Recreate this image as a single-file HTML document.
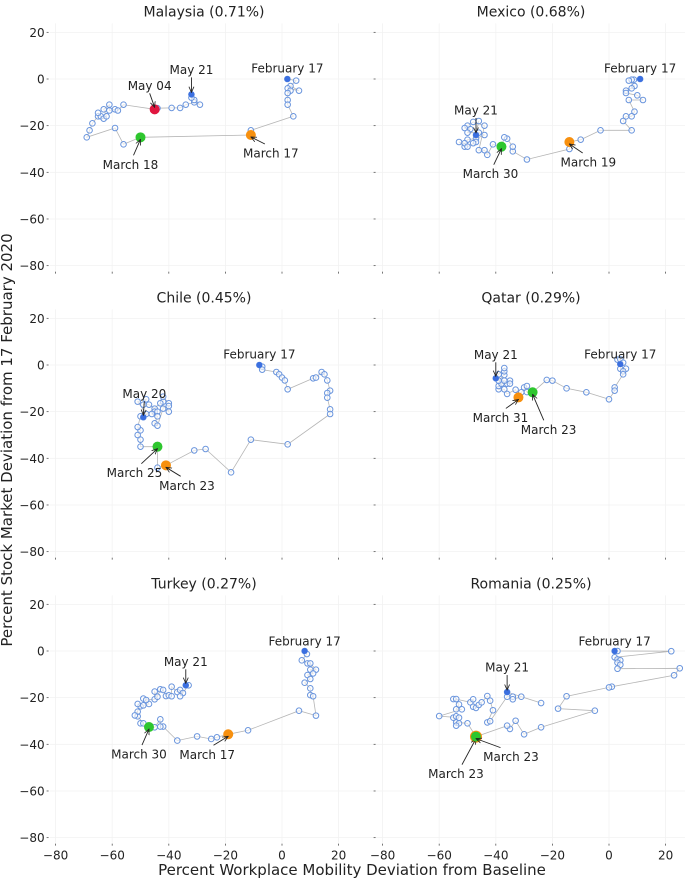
<!DOCTYPE html>
<html><head><meta charset="utf-8"><style>
html,body{margin:0;padding:0;background:#fff;}
svg{display:block;font-family:"DejaVu Sans","Liberation Sans",sans-serif;}
</style></head><body>
<svg id="chart" width="685" height="878" viewBox="0 0 685 878" xmlns="http://www.w3.org/2000/svg">
<text x="0" y="0" transform="translate(12,440) rotate(-90)" text-anchor="middle" font-size="15" fill="#222">Percent Stock Market Deviation from 17 February 2020</text>
<text x="352" y="875" text-anchor="middle" font-size="15" fill="#222">Percent Workplace Mobility Deviation from Baseline</text>
</svg>
<script>
const xTicks = [-80, -60, -40, -20, 0, 20];
const yTicks = [20, 0, -20, -40, -60, -80];
const titles = ["Malaysia (0.71%)", "Mexico (0.68%)", "Chile (0.45%)", "Qatar (0.29%)", "Turkey (0.27%)", "Romania (0.25%)"];

const malaysiaX = [1.9,5,3,6,2,3,2,2,2,4,-11,-11,-50,-56,-59,-69,-68,-67,-65,-64,-65,-63,-62,-63,-61,-61,-59,-58,-56,-45,-44,-39,-36,-34,-31,-29,-31,-32,-32];
const malaysiaY = [0,-0.7,-3,-5,-4,-5,-6,-9,-11,-16,-22,-24,-25,-28,-21,-25,-22,-19,-16,-16,-14.5,-17,-16,-13,-11,-13.5,-13,-13.5,-11,-13,-12.5,-12.4,-12.4,-11,-10,-11,-9,-8,-6.6];
const mexicoX = [11,8.8,8,7,9,8,6,6,10,12,7,9,8,6,5,8,-3,-10,-14,-14,-29,-34,-34,-36,-37,-38,-41,-43,-44,-46,-44,-48,-50,-51,-49,-50,-46,-44,-47,-50,-51,-53,-51,-50,-47,-48,-46,-47];
const mexicoY = [0,-0.3,-0.3,-0.7,-3,-4,-5,-6,-7,-9,-9,-14,-16,-16,-18,-22,-22,-26,-27,-30,-34.5,-31,-29,-25.6,-25,-29,-28,-32.5,-30.5,-30.5,-20,-18.4,-20,-21,-21.5,-23,-23,-24,-25.5,-26,-29,-27,-27.5,-29,-27,-27.5,-18,-24];
const chileX = [-8,-7,-7,-2,-1,0,1,2,11,12,14,15,16,17,16,16,17,17,2,-11,-18,-27,-31,-41,-44,-44,-50,-50,-51,-50,-51,-50,-48,-51,-48,-49,-47,-45,-45,-44,-46,-44,-45,-44,-42,-42,-42,-40,-40,-40,-43,-49];
const chileY = [0,-0.7,-2,-3,-4,-5.4,-6.6,-10.4,-5.7,-5.4,-3,-4,-6.6,-11,-12,-14,-19,-21,-34,-32,-46,-36,-36.6,-43,-44,-35,-35,-32,-30,-28,-26.6,-22,-21,-15.7,-14.7,-17,-17,-18.7,-20,-20,-21,-22,-25,-26,-18.7,-15.7,-13.6,-16.4,-17.6,-20,-16.4,-22.4];
const qatarX = [4,3,4,5,4,6,5,5,2,2,0,-8,-15,-20,-22,-27,-29,-30,-29,-31,-32,-33,-36,-37,-39,-39,-38,-36,-35,-35,-37,-39,-37,-37,-37,-39,-40];
const qatarY = [0.4,2.3,2.4,1,-1.6,-1.6,-2.7,-4,-9.6,-11,-14.7,-11.7,-10,-6.7,-6.4,-11.7,-11.6,-9.6,-9,-11.7,-13.9,-10.6,-12.4,-10.4,-10.4,-9,-8,-8,-6.7,-8,-6.7,-6.7,-4.3,-2.7,-1.3,-4,-5.7];
const turkeyX = [8,8.8,7,9,10,12,10,11,9,10,8,10,10,11,12,6,-12,-19,-23,-25,-30,-37,-42,-43,-43,-45,-47,-50,-49,-51,-51,-52,-50,-51,-49,-47,-49,-48,-45,-45,-44,-43,-42,-41,-40,-39,-39,-37,-36,-35,-36,-33,-34];
const turkeyY = [0,-1.3,-4,-5.3,-5.3,-8,-8,-9.6,-10.3,-12,-13.6,-16,-18.9,-19.4,-27.7,-25.6,-34,-35.7,-37,-37.7,-36.6,-38.4,-32.4,-32.4,-29.3,-32.7,-32.6,-31,-31,-28,-26,-27.6,-23.7,-22.7,-23.3,-22.7,-20.4,-21,-20.7,-17.4,-19.6,-16.4,-16.7,-19.3,-19,-19.4,-15.3,-17.6,-16.7,-18,-19.4,-14.7,-14.7];
const romaniaX = [2,3,22,2,3,4,3,4,3,25,23,1,0,-15,-18,-5,-24,-30,-33,-35,-36,-47,-50,-54,-53,-54,-55,-54,-53,-60,-52,-54,-53,-55,-54,-49,-48,-48,-47,-46,-45,-43,-42,-41,-43,-42,-36,-34,-34,-31,-24,-36];
const romaniaY = [0,0,-0.1,-2.7,-3.6,-4,-5,-5.9,-7.6,-7.4,-10.4,-15.3,-15.6,-19.4,-24.7,-25.6,-32.7,-35.7,-29.9,-33.4,-32,-36.7,-31,-30.6,-31,-32,-28.6,-28,-28.6,-27.9,-25,-25,-22.9,-20.6,-20.6,-22,-20.7,-23.9,-24.4,-23.1,-22,-19.3,-21.3,-25.4,-30.6,-30.1,-19.6,-19.6,-20.7,-19.6,-22.3,-17.6];

const malaysiaMarks = [["February 17",1.9,0,"b"],["May 21",-32,-6.6,"b"],["May 04",-45,-13,"r"],["March 18",-50,-25,"g"],["March 17",-11,-24,"o"]];
const mexicoMarks = [["February 17",11,0,"b"],["May 21",-47,-24,"b"],["March 30",-38,-29,"g"],["March 19",-14,-27,"o"]];
const chileMarks = [["February 17",-8,0,"b"],["May 20",-49,-22.4,"b"],["March 25",-44,-35,"g"],["March 23",-41,-43,"o"]];
const qatarMarks = [["February 17",4,0.4,"b"],["May 21",-40,-5.7,"b"],["March 31",-32,-13.9,"o"],["March 23",-27,-11.7,"g"]];
const turkeyMarks = [["February 17",8,0,"b"],["May 21",-34,-14.7,"b"],["March 30",-47,-32.6,"g"],["March 17",-19,-35.7,"o"]];
const romaniaMarks = [["February 17",2,0,"b"],["May 21",-36,-17.6,"b"],["March 23",-47,-36.7,"o"],["March 23",-47,-36.7,"g"]];

const labelOffsets = [
 [[0,-11,0],[0,-25,1],[-5,-24,1],[-10,27,1],[20,18,1]],
 [[0,-11,0],[0,-25,1],[-11,27,1],[19,20,1]],
 [[0,-11,0],[1,-24,1],[-23,26,1],[21,20,1]],
 [[0,-10,0],[0,-24,1],[-18,20,1],[16,37,1]],
 [[0,-10,0],[0,-24,1],[-10,27,1],[-21,20,1]],
 [[0,-10,0],[0,-25,1],[-20,37,1],[35,20,1]]
];

const seriesX = [malaysiaX, mexicoX, chileX, qatarX, turkeyX, romaniaX];
const seriesY = [malaysiaY, mexicoY, chileY, qatarY, turkeyY, romaniaY];
const marks = [malaysiaMarks, mexicoMarks, chileMarks, qatarMarks, turkeyMarks, romaniaMarks];
const colors = {b:"#3b6fe0", g:"#2ec62e", o:"#f7900f", r:"#e0163f"};

const svg = document.getElementById('chart');
const NS = "http://www.w3.org/2000/svg";
function mk(tag, attrs, parent){
  const e = document.createElementNS(NS, tag);
  for (const k in attrs) e.setAttribute(k, attrs[k]);
  (parent||svg).appendChild(e);
  return e;
}
const defs = mk('defs', {});
const mkr = mk('marker', {id:'arr', viewBox:'0 0 10 10', refX:'9', refY:'5', markerWidth:'7', markerHeight:'7', orient:'auto-start-reverse'}, defs);
mk('path', {d:'M0,1 L9,5 L0,9', fill:'none', stroke:'#222', 'stroke-width':'1.3'}, mkr);

const colX0 = [282, 609];
const rowY0 = [79, 365, 651];
const kx = 2.83, ky = 2.333;

for (let i = 0; i < 6; i++) {
  const col = i % 2, row = Math.floor(i / 2);
  const sx = v => colX0[col] + v * kx;
  const sy = v => rowY0[row] - v * ky;
  const g = mk('g', {});
  
  
  const left = col === 0 ? 50 : 358, right = col === 0 ? 358 : 685;
  const top = sy(20) - 9, bot = sy(-80) + 5;
  yTicks.forEach(t => {
    const l = mk('line', {x1:left, x2:right, y1:sy(t), y2:sy(t), stroke:'#f2f2f2', 'stroke-width':'0.8'}, g);
    
    
    const tk = mk('line', {x1:sx(-80)-9, x2:sx(-80)-7, y1:sy(t), y2:sy(t), stroke:'#555', 'stroke-width':'0.8'}, g);
    
    
    if (col === 0) {
      const tl = mk('text', {x:sx(-80)-11, y:sy(t)+4.5, 'text-anchor':'end', 'font-size':'12', fill:'#222'}, g);
      
      
      tl.textContent = (t < 0 ? '\u2212' + (-t) : t);
    }
  });
  xTicks.forEach(t => {
    const l = mk('line', {x1:sx(t), x2:sx(t), y1:top, y2:bot, stroke:'#f2f2f2', 'stroke-width':'0.8'}, g);
    
    
    const tk = mk('line', {x1:sx(t), x2:sx(t), y1:bot+1, y2:bot+3, stroke:'#555', 'stroke-width':'0.8'}, g);
    
    
    if (row === 2) {
      const tl = mk('text', {x:sx(t), y:bot+17, 'text-anchor':'middle', 'font-size':'12', fill:'#222'}, g);
      
      
      tl.textContent = (t < 0 ? '\u2212' + (-t) : t);
    }
  });
  const tt = mk('text', {x:colX0[col] - 78, y:sy(20) - 16, 'text-anchor':'middle', 'font-size':'14', fill:'#222'}, g);
  
  
  tt.textContent = titles[i];
  const xs = seriesX[i], ys = seriesY[i];
  const pts = xs.map((v, j) => sx(v).toFixed(1) + ',' + sy(ys[j]).toFixed(1)).join(' ');
  const pl = mk('polyline', {points:pts, fill:'none', stroke:'#b5b5b5', 'stroke-width':'0.8'}, g);
  
  
  xs.forEach((v, j) => {
    const c = mk('circle', {cx:sx(v), cy:sy(ys[j]), r:'2.8', fill:'#fff', 'fill-opacity':'0.6', stroke:'#6a95dd', 'stroke-width':'1'}, g);
    
    
  });
  marks[i].forEach((m, j) => {
    const px = sx(m[1]), py = sy(m[2]);
    const big = m[3] !== 'b';
    const c = mk('circle', {cx:px, cy:py, r: big ? (m[3]==='o' && i===5 ? 6 : 5) : 3, fill:colors[m[3]]}, g);
    
    
    const off = labelOffsets[i][j];
    const tx = px + off[0], ty = py + off[1];
    const t = mk('text', {x:tx, y:ty + 4.5, 'text-anchor':'middle', 'font-size':'12', fill:'#222'}, g);
    
    
    t.textContent = m[0];
    if (off[2]) {
      const sy0 = off[1] < 0 ? ty + 8 : ty - 9;
      const ax = tx + (px - tx) * (off[1] < 0 ? 0 : 0.3);
      const a = mk('line', {x1:ax, y1:sy0, x2:px, y2:py + (off[1] < 0 ? -2 : 2), stroke:'#222', 'stroke-width':'0.9', 'marker-end':'url(#arr)'}, g);
      
      
    }
  });
}
</script>
</body></html>
